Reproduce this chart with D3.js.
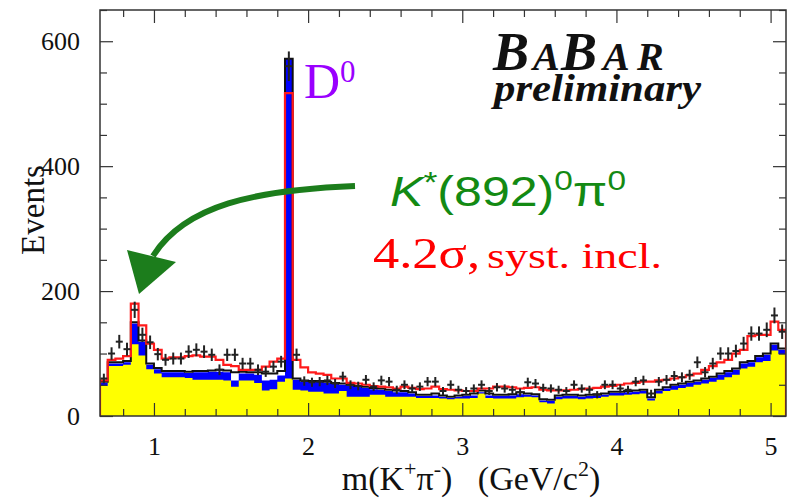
<!DOCTYPE html>
<html><head><meta charset="utf-8">
<script src="https://cdn.jsdelivr.net/npm/d3@7/dist/d3.min.js"></script>
<style>
body{margin:0;background:#fff;}
svg{display:block;}
</style></head>
<body>
<svg id="chart" width="791" height="502"></svg>
<script>
// ---- data (bins of 0.05 GeV/c^2 starting at 0.65) ----
const binLow = 0.65, binWidth = 0.05;
const yellowBkg = [48,80,80,82,115,97,75,68,62,62,62,61,
  58,58,58,58,57,47,57,57,53,41,43,55,
  60,
  42,41,39,39,36,36,40,31,31,31,34,34,31,31,31,31,
  29,29,29,28,27,28,28,29,36,29,28,28,28,30,31,30,
  22,20,27,28,28,27,28,29,31,33,33,34,35,36,25,36,
  40,42,45,47,50,52,55,58,62,66,76,79,86,88,105,99];
const blueBkg = [53,84,84,86,148,119,82,75,70,70,70,69,
  70,70,71,71,70,57,68,68,66,57,58,65,
  572,
  58,55,55,55,53,52,50,48,47,45,43,42,40,38,38,36,
  32,32,33,31,29,31,32,33,38,33,32,32,33,35,34,33,
  25,24,31,32,32,31,32,33,34,37,37,38,39,40,28,40,
  44,48,50,53,55,58,61,66,70,74,84,86,94,98,114,106];
const blackBkg = [55,86,86,88,150,121,84,77,72,72,72,71,
  72,72,73,74,73,70,71,70,70,68,68,72,
  572,
  60,57,56,56,55,53,52,50,48,47,45,44,42,41,40,38,
  34,34,36,33,31,33,34,36,41,36,34,34,35,38,36,35,
  27,26,33,34,34,33,34,35,36,39,39,40,41,42,30,42,
  46,50,52,55,57,60,63,68,72,76,86,88,96,100,116,108];
const redTotal = [57,90,92,96,180,145,116,106,92,94,94,96,
  97,95,95,90,82,80,74,74,74,79,87,92,
  517,
  90,78,70,68,66,60,60,53,52,50,48,47,46,44,47,45,
  43,44,47,43,42,41,40,40,44,44,47,47,46,44,45,46,
  42,41,41,41,42,43,44,45,47,48,50,52,53,55,55,57,
  58,60,62,65,68,74,80,86,90,100,106,128,130,130,151,138];
const dataEvents = [60,100,119,107,170,130,118,99,90,92,92,103,
  106,103,98,74,98,98,84,84,74,71,79,87,
  560,
  98,56,54,55,57,52,63,50,48,58,47,57,55,42,50,44,
  47,55,55,40,50,42,40,44,50,40,46,44,42,38,54,52,
  45,44,42,40,50,44,42,34,50,50,44,42,55,57,36,55,
  58,64,62,66,86,70,84,100,100,104,116,132,132,138,161,135];
const xMajorTicks = [1,2,3,4,5];
const xMinorTicks = [0.8,1.2,1.4,1.6,1.8,2.2,2.4,2.6,2.8,3.2,3.4,3.6,3.8,4.2,4.4,4.6,4.8];
const yMajorTicks = [0,200,400,600];
const yMinorTicks = [50,100,150,250,300,350,450,500,550,650];

// ---- layout ----
const svg = d3.select("#chart");
const L = 100, R = 786, T = 10, B = 416;
const x = d3.scaleLinear().domain([0.65, 5.10]).range([L, R]);
const y = d3.scaleLinear().domain([0, 650]).range([B, T]);
const nb = yellowBkg.length;
const edges = d3.range(nb + 1).map(i => binLow + i * binWidth);

function stepPoints(vals){
  const pts = [[edges[0], 0]];
  vals.forEach((v,i) => { pts.push([edges[i], v]); pts.push([edges[i+1], v]); });
  pts.push([edges[nb], 0]);
  return pts;
}
const line = d3.line().x(d => x(d[0])).y(d => y(d[1]));
const area = d3.area().x(d => x(d[0])).y0(y(0)).y1(d => y(d[1]));

svg.append("defs").append("clipPath").attr("id","clip")
  .append("rect").attr("x",L).attr("y",T).attr("width",R-L).attr("height",B-T);
const plot = svg.append("g").attr("clip-path","url(#clip)");

plot.append("path").datum(stepPoints(blueBkg)).attr("d", area).attr("fill","#0000ff");
plot.append("path").datum(stepPoints(yellowBkg)).attr("d", area).attr("fill","#ffff00");
plot.append("path").datum(stepPoints(blackBkg)).attr("d", line)
  .attr("fill","none").attr("stroke","#111").attr("stroke-width",2);
plot.append("path").datum(stepPoints(redTotal)).attr("d", line)
  .attr("fill","none").attr("stroke","#ff1a1a").attr("stroke-width",2.2);

// data points with error bars
const pts = plot.append("g").attr("stroke","#222").attr("stroke-width",2);
dataEvents.forEach((v,i) => {
  const xc = binLow + (i + 0.5) * binWidth;
  const e = Math.sqrt(v);
  pts.append("line").attr("x1",x(xc)).attr("x2",x(xc)).attr("y1",y(v-e)).attr("y2",y(v+e));
  pts.append("line").attr("x1",x(xc)-3.5).attr("x2",x(xc)+3.5).attr("y1",y(v)).attr("y2",y(v));
});

// ---- axes ----
const fontSerif = "'Liberation Serif','Times New Roman',serif";
function styleAxis(g){
  g.select(".domain").remove();
  g.selectAll("line").attr("stroke","#333").attr("stroke-width",1.2);
  g.selectAll("text").attr("font-family",fontSerif).attr("font-size",26).attr("fill","#111");
}
svg.append("g").attr("transform",`translate(0,${B})`)
  .call(d3.axisBottom(x).tickValues(xMajorTicks).tickSize(-13).tickSizeOuter(0).tickPadding(21).tickFormat(d3.format("d")))
  .call(styleAxis);
svg.append("g").attr("transform",`translate(0,${B})`)
  .call(d3.axisBottom(x).tickValues(xMinorTicks).tickSize(-7).tickSizeOuter(0).tickFormat(""))
  .call(styleAxis);
svg.append("g").attr("transform",`translate(0,${T})`)
  .call(d3.axisTop(x).tickValues(xMajorTicks).tickSize(-13).tickSizeOuter(0).tickFormat(""))
  .call(styleAxis);
svg.append("g").attr("transform",`translate(0,${T})`)
  .call(d3.axisTop(x).tickValues(xMinorTicks).tickSize(-7).tickSizeOuter(0).tickFormat(""))
  .call(styleAxis);
svg.append("g").attr("transform",`translate(${L},0)`)
  .call(d3.axisLeft(y).tickValues(yMajorTicks).tickSize(-13).tickSizeOuter(0).tickPadding(20).tickFormat(d3.format("d")))
  .call(styleAxis);
svg.append("g").attr("transform",`translate(${L},0)`)
  .call(d3.axisLeft(y).tickValues(yMinorTicks).tickSize(-7).tickSizeOuter(0).tickFormat(""))
  .call(styleAxis);
svg.append("g").attr("transform",`translate(${R},0)`)
  .call(d3.axisRight(y).tickValues(yMajorTicks).tickSize(-13).tickSizeOuter(0).tickFormat(""))
  .call(styleAxis);
svg.append("g").attr("transform",`translate(${R},0)`)
  .call(d3.axisRight(y).tickValues(yMinorTicks).tickSize(-7).tickSizeOuter(0).tickFormat(""))
  .call(styleAxis);
svg.append("rect").attr("x",L).attr("y",T).attr("width",R-L).attr("height",B-T)
  .attr("fill","none").attr("stroke","#333").attr("stroke-width",1.5);

// axis titles
const xt = svg.append("text").attr("x",471).attr("y",490).attr("text-anchor","middle")
  .attr("font-family",fontSerif).attr("font-size",34).attr("fill","#111");
xt.append("tspan").text("m(K");
xt.append("tspan").attr("font-size",22).attr("dy",-14).text("+");
xt.append("tspan").attr("dy",14).text("π");
xt.append("tspan").attr("font-size",22).attr("dy",-14).text("-");
xt.append("tspan").attr("dy",14).text(")\u00a0\u00a0\u00a0(GeV/c");
xt.append("tspan").attr("font-size",22).attr("dy",-14).text("2");
xt.append("tspan").attr("dy",14).text(")");

svg.append("text").attr("transform","translate(44,210) rotate(-90)").attr("text-anchor","middle")
  .attr("font-family",fontSerif).attr("font-size",33).attr("fill","#111").text("Events");

// ---- annotations ----
const dz = svg.append("text").attr("x",304).attr("y",98).attr("font-family",fontSerif)
  .attr("font-size",50).attr("fill","#9a00ff");
dz.append("tspan").text("D");
dz.append("tspan").attr("font-size",31).attr("dy",-16).text("0");

const bb = svg.append("text").attr("y",70).attr("font-family",fontSerif)
  .attr("font-weight","bold").attr("font-style","italic").attr("fill","#111");
bb.append("tspan").attr("x",493).attr("font-size",54).text("B");
bb.append("tspan").attr("x",533).attr("font-size",40).text("A");
bb.append("tspan").attr("x",561).attr("font-size",54).text("B");
bb.append("tspan").attr("x",603).attr("font-size",40).text("A");
bb.append("tspan").attr("x",637).attr("font-size",40).text("R");
svg.append("text").attr("x",494).attr("y",101).attr("font-family",fontSerif)
  .attr("font-weight","bold").attr("font-style","italic").attr("font-size",38).attr("fill","#111")
  .attr("textLength",207).attr("lengthAdjust","spacingAndGlyphs").text("preliminary");

const green = "#138a13";
const kt = svg.append("text").attr("x",390).attr("y",206).attr("font-family","'Liberation Sans',Arial,sans-serif")
  .attr("font-size",42).attr("fill",green).attr("textLength",236).attr("lengthAdjust","spacingAndGlyphs");
kt.append("tspan").attr("font-style","italic").text("K");
kt.append("tspan").attr("font-size",30).attr("dy",-14).text("*");
kt.append("tspan").attr("dy",14).text("(892)");
kt.append("tspan").attr("font-size",28).attr("dy",-16).text("0");
kt.append("tspan").attr("dy",16).text("π");
kt.append("tspan").attr("font-size",28).attr("dy",-16).text("0");

svg.append("text").attr("x",373).attr("y",268).attr("font-family",fontSerif).attr("fill","#ff0000")
  .attr("font-size",44).attr("textLength",107).attr("lengthAdjust","spacingAndGlyphs").text("4.2σ,");
svg.append("text").attr("x",487).attr("y",268).attr("font-family",fontSerif).attr("fill","#ff0000")
  .attr("font-size",36).attr("textLength",175).attr("lengthAdjust","spacingAndGlyphs").text("syst. incl.");

// arrow
svg.append("path").attr("d","M355,186 C255,190 185,205 153,256")
  .attr("fill","none").attr("stroke","#1c7d1c").attr("stroke-width",6);
svg.append("path").attr("d","M139,294 L127,250 L176,262 Z").attr("fill","#1c7d1c");
</script>
</body></html>
